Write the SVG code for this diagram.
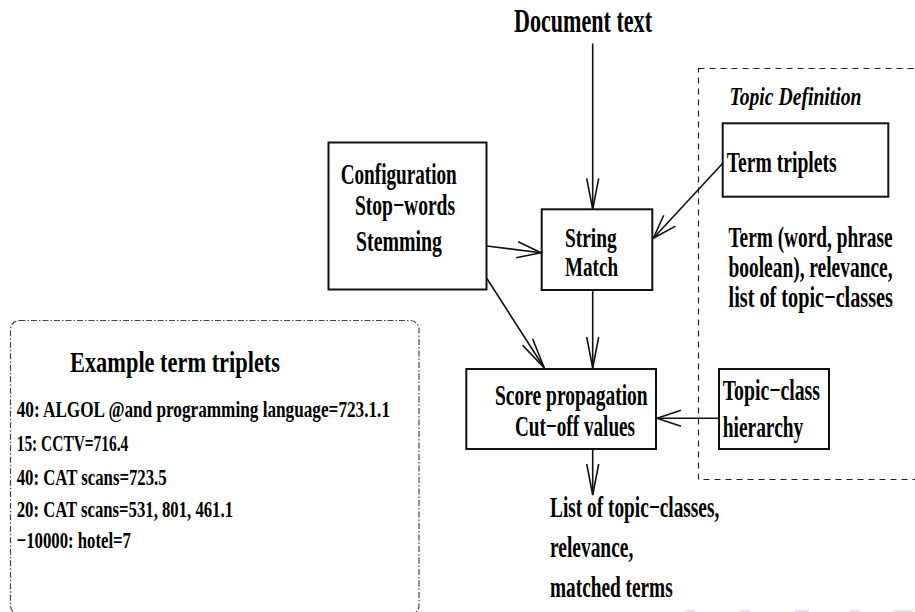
<svg xmlns="http://www.w3.org/2000/svg" width="915" height="612" viewBox="0 0 915 612">
  <style>
    text { font-family: "Liberation Serif", "Times New Roman", serif; font-weight: bold; fill: #000; }
    .t30 { font-size: 30px; }
    .t28 { font-size: 28px; }
    .t22 { font-size: 24px; }
    .title { font-size: 29px; }
    .ital { font-size: 26px; font-style: italic; }
    .box { fill: #fff; stroke: #111; stroke-width: 2; }
    .conn { fill: none; stroke: #111; stroke-width: 1.6; }
    .region { fill: none; stroke: #222; stroke-width: 1.2; stroke-dasharray: 6 5; }
    .example { fill: none; stroke: #444; stroke-width: 1.2; stroke-dasharray: 6 2 1.5 2; }
    .nav { fill: #e2e2f6; }
  </style>
  <defs>
    <marker id="head" markerUnits="userSpaceOnUse" markerWidth="26" markerHeight="18" refX="24" refY="8" orient="auto" overflow="visible">
      <path d="M0,0 L24,8 L0,16" fill="none" stroke="#111" stroke-width="1.6"/>
    </marker>
    <marker id="head-long" markerUnits="userSpaceOnUse" markerWidth="32" markerHeight="14" refX="31" refY="6" orient="auto" overflow="visible">
      <path d="M0,0 L31,6 L0,12" fill="none" stroke="#111" stroke-width="1.6"/>
    </marker>
  </defs>

  <!-- input label -->
  <g id="document-text">
    <text x="514" y="32" style="font-size:33px" textLength="138" lengthAdjust="spacingAndGlyphs">Document text</text>
  </g>

  <!-- topic definition region (dashed, runs off the right edge) -->
  <g id="topic-definition">
    <rect class="region" x="698.5" y="68.5" width="240" height="411"/>
    <text class="ital" x="729.5" y="105" textLength="132" lengthAdjust="spacingAndGlyphs">Topic Definition</text>
    <text class="t30" x="728.5" y="246.7" textLength="164" lengthAdjust="spacingAndGlyphs">Term (word, phrase</text>
    <text class="t30" x="728.5" y="276.7" textLength="164" lengthAdjust="spacingAndGlyphs">boolean), relevance,</text>
    <text class="t30" x="728.5" y="306.7" textLength="164.5" lengthAdjust="spacingAndGlyphs">list of topic−classes</text>
  </g>

  <g id="configuration">
    <rect class="box" x="328.5" y="142.5" width="158" height="147"/>
    <text class="t30" x="340.7" y="184.3" textLength="116" lengthAdjust="spacingAndGlyphs">Configuration</text>
    <text class="t30" x="355" y="215" textLength="100" lengthAdjust="spacingAndGlyphs">Stop−words</text>
    <text class="t30" x="356" y="250.7" textLength="86" lengthAdjust="spacingAndGlyphs">Stemming</text>
  </g>

  <g id="string-match">
    <rect class="box" x="541.7" y="209.3" width="110.6" height="80.7"/>
    <text class="t28" x="565" y="246.7" textLength="51.7" lengthAdjust="spacingAndGlyphs">String</text>
    <text class="t28" x="565" y="276" textLength="53" lengthAdjust="spacingAndGlyphs">Match</text>
  </g>

  <g id="term-triplets">
    <rect class="box" x="722.7" y="123.3" width="165.6" height="73.4"/>
    <text class="t30" x="726.7" y="171.7" textLength="110" lengthAdjust="spacingAndGlyphs">Term triplets</text>
  </g>

  <g id="score-propagation">
    <rect class="box" x="466.3" y="369" width="189.7" height="80"/>
    <text class="t30" x="495" y="405" textLength="152.7" lengthAdjust="spacingAndGlyphs">Score propagation</text>
    <text class="t30" x="515" y="436" textLength="120" lengthAdjust="spacingAndGlyphs">Cut−off values</text>
  </g>

  <g id="topic-class-hierarchy">
    <rect class="box" x="719" y="369" width="110" height="80"/>
    <text class="t30" x="722.7" y="400" textLength="97.3" lengthAdjust="spacingAndGlyphs">Topic−class</text>
    <text class="t30" x="722.7" y="437" textLength="80.6" lengthAdjust="spacingAndGlyphs">hierarchy</text>
  </g>

  <g id="result">
    <text class="t30" x="550" y="516.7" textLength="169.3" lengthAdjust="spacingAndGlyphs">List of topic−classes,</text>
    <text class="t30" x="550" y="556.7" textLength="83.3" lengthAdjust="spacingAndGlyphs">relevance,</text>
    <text class="t30" x="550" y="596.7" textLength="122.7" lengthAdjust="spacingAndGlyphs">matched terms</text>
  </g>

  <g id="example-triplets">
    <rect class="example" x="10.5" y="320.5" width="408.5" height="294" rx="9" ry="9"/>
    <text class="title" x="70" y="372" textLength="210" lengthAdjust="spacingAndGlyphs">Example term triplets</text>
    <text class="t22" x="16.7" y="417" textLength="373.3" lengthAdjust="spacingAndGlyphs">40: ALGOL @and programming language=723.1.1</text>
    <text class="t22" x="16.7" y="451" textLength="111.6" lengthAdjust="spacingAndGlyphs">15: CCTV=716.4</text>
    <text class="t22" x="16.7" y="484.5" textLength="150" lengthAdjust="spacingAndGlyphs">40: CAT scans=723.5</text>
    <text class="t22" x="16.7" y="517" textLength="216.3" lengthAdjust="spacingAndGlyphs">20: CAT scans=531, 801, 461.1</text>
    <text class="t22" x="16.7" y="548" textLength="114.3" lengthAdjust="spacingAndGlyphs">−10000: hotel=7</text>
  </g>

  <!-- connectors -->
  <g id="connectors">
    <line class="conn" x1="592.7" y1="43.5" x2="592.7" y2="209.3" marker-end="url(#head-long)"/>
    <line class="conn" x1="486.7" y1="246" x2="541" y2="252.7" marker-end="url(#head)"/>
    <line class="conn" x1="722.7" y1="163.3" x2="653.3" y2="238.3" marker-end="url(#head)"/>
    <line class="conn" x1="592.7" y1="290" x2="592.7" y2="368" marker-end="url(#head-long)"/>
    <line class="conn" x1="486.7" y1="278.3" x2="544.3" y2="368" marker-end="url(#head-long)"/>
    <line class="conn" x1="719" y1="418.3" x2="657" y2="418.3" marker-end="url(#head)"/>
    <line class="conn" x1="592.7" y1="449" x2="592.7" y2="495" marker-end="url(#head-long)"/>
  </g>

  <!-- navigation marks along the bottom edge -->
  <g id="nav">
    <rect class="nav" x="685" y="610" width="10" height="2"/>
    <rect class="nav" x="740" y="610" width="10" height="2"/>
    <rect class="nav" x="795" y="610" width="14" height="2"/>
    <rect class="nav" x="850" y="610" width="10" height="2"/>
    <rect class="nav" x="893" y="610" width="20" height="2"/>
  </g>
</svg>
